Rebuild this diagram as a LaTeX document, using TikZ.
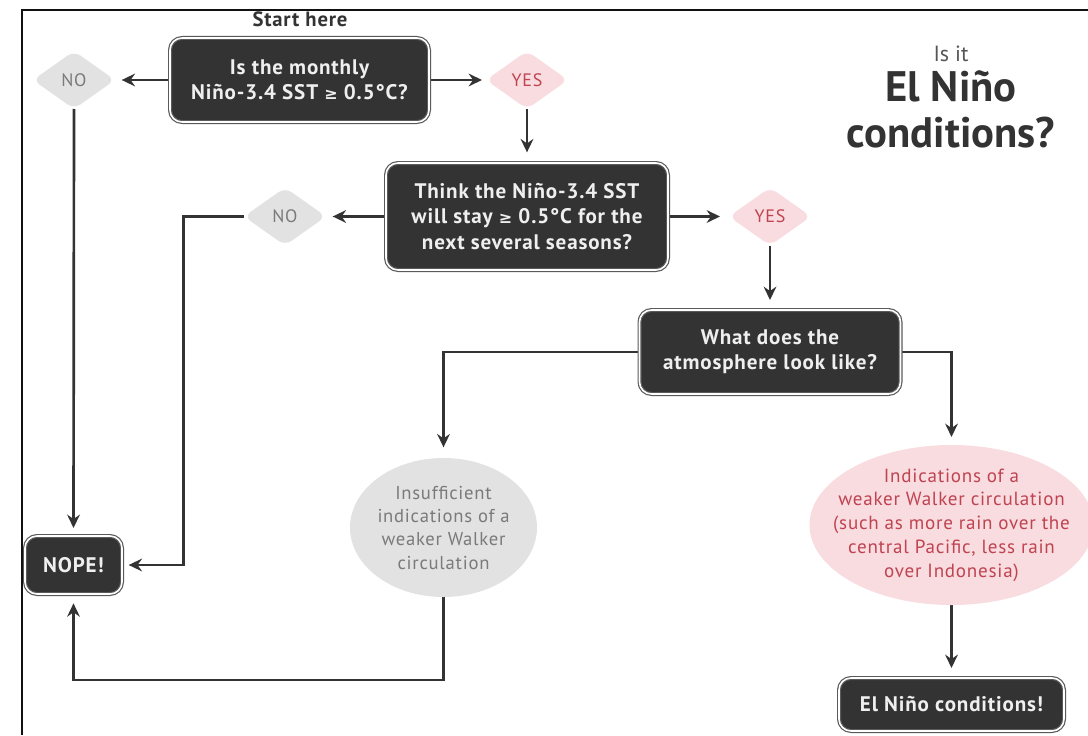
\documentclass[tikz,border=0pt]{standalone}
\usepackage{fontspec}
\setmainfont[LetterSpace=4]{PT Sans}
\newfontfamily\titlefont{PT Sans}
\newfontfamily\symfont{DejaVu Sans}
\usetikzlibrary{arrows.meta,shapes.geometric,calc}
\definecolor{boxfill}{HTML}{333333}
\definecolor{boxline}{HTML}{5A5A5A}
\definecolor{boxtext}{HTML}{EFEFEF}
\definecolor{nofill}{HTML}{E2E2E2}
\definecolor{notext}{HTML}{7A7A7A}
\definecolor{yesfill}{HTML}{F8DCE0}
\definecolor{yestext}{HTML}{BF4350}
\definecolor{arrowc}{HTML}{333333}
\definecolor{framec}{HTML}{111111}
\definecolor{titlegray}{HTML}{555555}
\newcommand{\gesym}{{\symfont\fontsize{12}{12}\selectfont ≥}}
\pgfdeclarelayer{bg}
\pgfsetlayers{bg,main}
\begin{document}
\begin{tikzpicture}[x=0.75pt,y=-0.75pt,
  qbox/.style={rectangle, rounded corners=9pt, fill=boxfill, draw=boxline, line width=0.9pt, double=white, double distance=1.2pt, text=boxtext, font=\bfseries\fontsize{15.8}{19}\selectfont, align=center, inner sep=0pt, outer sep=0pt},
  nodiam/.style={diamond, aspect=1.41, rounded corners=6pt, fill=nofill, text=notext, minimum width=61.5pt, minimum height=43.5pt, inner sep=0pt, outer sep=0pt, font=\fontsize{13.5}{15}\selectfont},
  yesdiam/.style={nodiam, fill=yesfill, text=yestext},
  noell/.style={ellipse, fill=nofill, text=notext, inner xsep=-30pt, inner ysep=-25pt, outer sep=0pt, align=center, font=\fontsize{14}{17.5}\selectfont},
  yesell/.style={noell, fill=yesfill, text=yestext, font=\fontsize{14.3}{17.8}\selectfont},
  arr/.style={draw=arrowc, line width=2pt, -{Stealth[length=10pt,width=9.5pt,inset=3.3pt]}},
]
\useasboundingbox (0,0) rectangle (1088,735);
\draw[framec, line width=1.5pt] (1088,10) -- (22,10) -- (22,735);

% titles
\node[font=\bfseries\fontsize{15.5}{17}\selectfont, text=boxfill, anchor=base] (start) at (300,27) {Start here};
\node[font=\titlefont\fontsize{16.5}{18}\selectfont, text=titlegray, anchor=base] (t1) at (951,62) {Is it};
\node[font=\titlefont\bfseries\fontsize{32}{34}\selectfont, text=boxfill, anchor=base] (t2) at (951,102) {El Niño};
\node[font=\titlefont\bfseries\fontsize{32}{34}\selectfont, text=boxfill, anchor=base] (t3) at (951,147) {conditions?};

% boxes
\node[qbox, minimum width=194.25pt, minimum height=63pt] (b1) at (299.5,80) {Is the monthly\\Niño-3.4 SST \gesym{} 0.5°C?};
\node[qbox, minimum width=211.5pt, minimum height=80.25pt] (b2) at (527,216.5) {Think the Niño-3.4 SST\\will stay \gesym{} 0.5°C for the\\next several seasons?};
\node[qbox, minimum width=195.75pt, minimum height=63pt] (b3) at (770,352) {What does the\\atmosphere look like?};
\node[qbox, minimum width=168.75pt, minimum height=39.75pt] (b4) at (951.5,704.5) {El Niño conditions!};
\node[qbox, minimum width=72.75pt, minimum height=43.5pt] (nope) at (73.5,565) {NOPE!};

% diamonds
\node[nodiam] (no1) at (74,80) {NO};
\node[yesdiam] (yes1) at (527,80) {YES};
\node[nodiam] (no2) at (285,216.5) {NO};
\node[yesdiam] (yes2) at (770,216.5) {YES};

% ellipses
\node[noell, minimum width=140.25pt, minimum height=104.25pt] (e1) at (443.5,527.5) {Insufficient\\indications of a\\weaker Walker\\circulation};
\node[yesell, minimum width=213pt, minimum height=120pt] (e2) at (951.5,525) {Indications of a\\weaker Walker circulation\\(such as more rain over the\\central Pacific, less rain\\over Indonesia)};

\coordinate (railA) at (183.5,565);
\coordinate (railB) at (443.5,680);

\begin{pgfonlayer}{bg}
\draw[arr, shorten >=5pt] (b1.west) -- (no1.east);
\draw[arr, shorten >=3pt] (b1.east) -- (yes1.west);
\draw[arr, shorten >=8pt] (yes1.south) -- (b2.north);
\draw[arr, shorten >=5pt] (b2.west) -- (no2.east);
\draw[arr, shorten >=6.75pt] (b2.east) -- (yes2.west);
\draw[arr, shorten >=7.5pt] (yes2.south) -- (b3.north);
\draw[arr, shorten >=8pt] (b3.west) -| (e1.north);
\draw[arr, shorten >=6pt] (b3.east) -| (e2.north);
\draw[arr, shorten >=7.5pt] (e2.south) -- (b4.north);
\draw[arr, shorten >=6pt] (no1.south) -- (nope.north);
\draw[arr, shorten >=5pt] (no2.west) -| (railA) -- (nope.east);
\draw[arr, shorten >=7pt] (e1.south) -- (railB) -| (nope.south);
\end{pgfonlayer}
\end{tikzpicture}
\end{document}
